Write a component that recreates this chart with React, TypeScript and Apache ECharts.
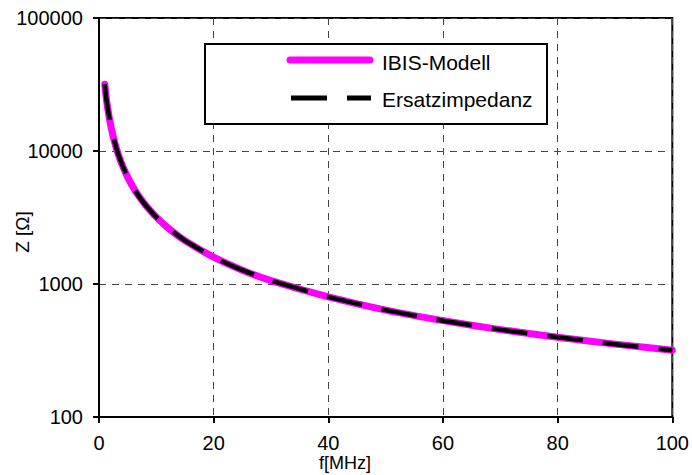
import React, { useEffect, useRef } from "react";
import * as echarts from "echarts";

const freqMHz = [1, 1.25, 1.5, 2, 2.5, 3, 3.5, 4, 5, 6, 7, 8, 10, 12, 15, 20, 25, 30, 40, 50, 60, 70, 80, 90, 100];
const ibisModell = [31800, 25400, 21200, 15900, 12700, 10600, 9080, 7950, 6360, 5300, 4540, 3980, 3180, 2650, 2120, 1590, 1270, 1060, 800, 636, 530, 454, 398, 353, 318];
const ersatzimpedanz = [31800, 25400, 21200, 15900, 12700, 10600, 9080, 7950, 6360, 5300, 4540, 3980, 3180, 2650, 2120, 1590, 1270, 1060, 800, 636, 530, 454, 398, 353, 318];
const seriesNames = ["IBIS-Modell", "Ersatzimpedanz"];
const xTitle = "f[MHz]";
const yTitle = "Z [Ω]";

const FONT = "'Liberation Sans', Arial, sans-serif";

export default function App() {
  const ref = useRef<HTMLDivElement>(null);
  useEffect(() => {
    if (!ref.current) return;
    const chart = echarts.init(ref.current, null, { renderer: "svg" });
    const gridDash = { color: "#444", width: 1, type: [7, 6] as number[] };
    chart.setOption({
      animation: false,
      backgroundColor: "#fff",
      grid: { left: 99, right: 19, top: 18, bottom: 58, show: true, borderColor: "#000", borderWidth: 2, backgroundColor: "transparent" },
      xAxis: {
        type: "value",
        min: 0,
        max: 100,
        interval: 20,
        axisLine: { show: true, lineStyle: { color: "#000", width: 2 } },
        axisTick: { show: true, length: 6, lineStyle: { color: "#000", width: 2 } },
        axisLabel: { color: "#000", fontFamily: FONT, fontSize: 20, margin: 16 },
        splitLine: { show: true, lineStyle: gridDash },
      },
      yAxis: {
        type: "log",
        logBase: 10,
        min: 100,
        max: 100000,
        axisLine: { show: true, lineStyle: { color: "#000", width: 2 } },
        axisTick: { show: true, length: 6, lineStyle: { color: "#000", width: 2 } },
        minorTick: { show: false },
        axisLabel: { color: "#000", fontFamily: FONT, fontSize: 20, margin: 16, formatter: (v: number) => String(Math.round(v)) },
        splitLine: { show: true, lineStyle: gridDash },
      },
      series: [
        {
          name: seriesNames[0],
          type: "line",
          data: freqMHz.map((f, i) => [f, ibisModell[i]]),
          showSymbol: false,
          smooth: 0.2,
          lineStyle: { color: "#ff00ff", width: 7, cap: "round", join: "round" },
          z: 3,
        },
        {
          name: seriesNames[1],
          type: "line",
          data: freqMHz.map((f, i) => [f, ersatzimpedanz[i]]),
          showSymbol: false,
          smooth: 0.2,
          lineStyle: { color: "#000", width: 4.5, type: [36, 20] },
          z: 4,
        },
      ],
      graphic: [
        { type: "rect", shape: { x: 205, y: 44, width: 342, height: 80 }, style: { fill: "#fff", stroke: "#000", lineWidth: 2 }, z: 100 },
        { type: "line", shape: { x1: 290, y1: 60, x2: 370, y2: 60 }, style: { stroke: "#ff00ff", lineWidth: 7, lineCap: "round" }, z: 101 },
        { type: "line", shape: { x1: 291, y1: 98, x2: 371, y2: 98 }, style: { stroke: "#000", lineWidth: 5, lineDash: [36, 20] }, z: 101 },
        { type: "text", x: 382, y: 62, style: { text: seriesNames[0], font: `21px ${FONT}`, fill: "#000", verticalAlign: "middle" }, z: 101 },
        { type: "text", x: 382, y: 99, style: { text: seriesNames[1], font: `21px ${FONT}`, fill: "#000", verticalAlign: "middle" }, z: 101 },
        { type: "text", x: 345, y: 463, style: { text: xTitle, font: `18px ${FONT}`, fill: "#000", align: "center", verticalAlign: "middle" }, z: 101 },
        { type: "text", x: 22, y: 232, rotation: Math.PI / 2, style: { text: yTitle, font: `19px ${FONT}`, fill: "#000", align: "center", verticalAlign: "middle" }, z: 101 },
      ],
    });
    return () => chart.dispose();
  }, []);
  return <div ref={ref} style={{ width: 692, height: 475, position: "absolute", left: 0, top: 0 }} />;
}
